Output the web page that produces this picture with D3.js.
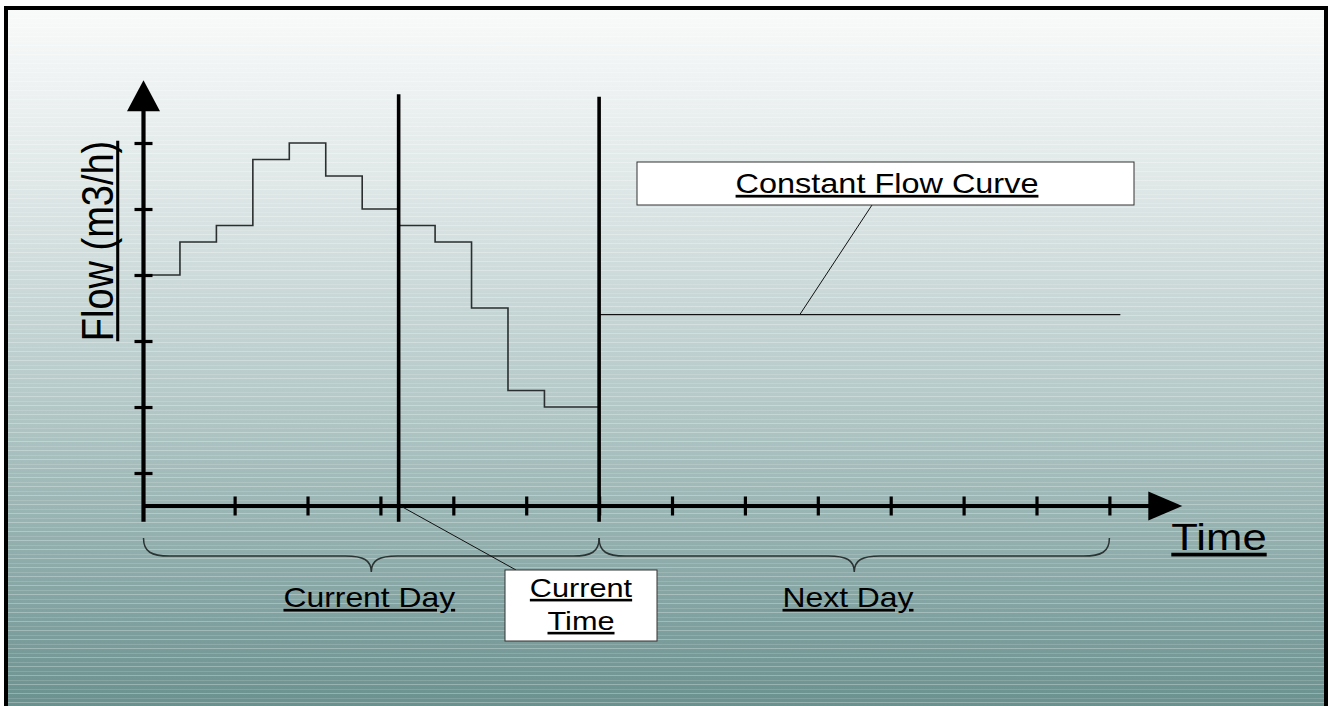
<!DOCTYPE html>
<html>
<head>
<meta charset="utf-8">
<script src="https://cdn.jsdelivr.net/npm/d3@7"></script>
<style>
  html, body { margin: 0; padding: 0; background: #fff; }
  svg { display: block; }
  text { font-family: Arial, "Liberation Sans", sans-serif; fill: #000;
         text-decoration: underline; text-decoration-skip-ink: none; }
  text.plain { text-decoration: none; }
</style>
</head>
<body>
<svg id="chart"></svg>
<script>
// time slots (half-hour steps) and flow levels
const pastSlots = [0, 1, 2, 3, 4, 5, 6, 7, 8, 9, 10, 11, 12.5];
const pastFlow  = [3.5, 4, 4.25, 5.25, 5.5, 5, 4.5, 4.25, 4, 3, 1.75, 1.5, 1.5];
const constSlots = [12.5, 26.8];
const constFlow  = [2.9, 2.9];
const xTickSlots = [2.5, 4.5, 6.5, 8.5, 10.5, 12.5, 14.5, 16.5, 18.5, 20.5, 22.5, 24.5, 26.5];
const yTickFlow  = [0.5, 1.5, 2.5, 3.5, 4.5, 5.5];
const currentTime = 7;
const dayBreak = 12.5;
const labels = { y: "Flow (m3/h)", x: "Time", today: "Current Day", tomorrow: "Next Day",
                 now: ["Current", "Time"], curve: "Constant Flow Curve" };

const W = 1330, H = 706;
const svg = d3.select("#chart").attr("width", W).attr("height", H);

// the picture is stretched horizontally
const SX = 1.18;

const x = d3.scaleLinear().domain([0, 28.5]).range([143.5, 1182.3]);
const y = d3.scaleLinear().domain([0, 6.5]).range([506, 77]);

// background gradient with faint banding
const defs = svg.append("defs");
const grad = defs.append("linearGradient").attr("id", "bg")
  .attr("x1", 0).attr("y1", 0).attr("x2", 0).attr("y2", 1);
grad.append("stop").attr("offset", "0%").attr("stop-color", "#f9fafa");
grad.append("stop").attr("offset", "25%").attr("stop-color", "#dfe7e7");
grad.append("stop").attr("offset", "55%").attr("stop-color", "#b5cac9");
grad.append("stop").attr("offset", "100%").attr("stop-color", "#69908e");

const pat = defs.append("pattern").attr("id", "bands")
  .attr("patternUnits", "userSpaceOnUse").attr("width", 20).attr("height", 9);
pat.append("rect").attr("y", 0).attr("width", 20).attr("height", 1)
  .attr("fill", "#fff").attr("opacity", 0.28);
pat.append("rect").attr("y", 5).attr("width", 20).attr("height", 1)
  .attr("fill", "#fff").attr("opacity", 0.14);

svg.append("rect").attr("x", 6).attr("y", 8).attr("width", W - 10).attr("height", H)
  .attr("fill", "url(#bg)");
svg.append("rect").attr("x", 6).attr("y", 8).attr("width", W - 10).attr("height", H)
  .attr("fill", "url(#bands)");
svg.append("rect").attr("x", 6).attr("y", 8).attr("width", W - 10).attr("height", H + 10)
  .attr("fill", "none").attr("stroke", "#000").attr("stroke-width", 4);

// step curve for the current day
const stepLine = d3.line().curve(d3.curveStepAfter)
  .x((d, i) => x(pastSlots[i])).y(d => y(d));
svg.append("path").datum(pastFlow)
  .attr("fill", "none").attr("stroke", "#2b2f2f").attr("stroke-width", 1.6)
  .attr("d", stepLine);

// constant flow for the next day
const flatLine = d3.line().x((d, i) => x(constSlots[i])).y(d => y(d));
svg.append("path").datum(constFlow)
  .attr("fill", "none").attr("stroke", "#111").attr("stroke-width", 1.3)
  .attr("d", flatLine);

// ticks via d3 axes (both sides of the axis lines)
const xAxis = svg.append("g").attr("transform", `translate(0,${y(0) - 9.5})`)
  .call(d3.axisBottom(x).tickValues(xTickSlots).tickSize(19).tickFormat(""));
const yAxis = svg.append("g").attr("transform", `translate(${x(0) - 9},0)`)
  .call(d3.axisRight(y).tickValues(yTickFlow).tickSize(18).tickFormat(""));
[xAxis, yAxis].forEach(g => {
  g.select(".domain").remove();
  g.selectAll(".tick line").attr("stroke", "#000").attr("stroke-width", 3.2);
});

// axis lines
svg.append("line").attr("x1", x(0)).attr("x2", x(27.6))
  .attr("y1", y(0)).attr("y2", y(0)).attr("stroke", "#000").attr("stroke-width", 4.2);
svg.append("line").attr("x1", x(0)).attr("x2", x(0))
  .attr("y1", y(-0.24)).attr("y2", y(6.1)).attr("stroke", "#000").attr("stroke-width", 4.2);

// arrow heads
const tipX = x(28.5), tipY = y(6.45);
svg.append("path")
  .attr("d", `M${tipX},${y(0)} L${tipX - 34},${y(0) - 14.5} L${tipX - 34},${y(0) + 14.5} Z`)
  .attr("fill", "#000");
svg.append("path")
  .attr("d", `M${x(0)},${tipY} L${x(0) - 16.5},${tipY + 31} L${x(0) + 16.5},${tipY + 31} Z`)
  .attr("fill", "#000");

// current time and day-break markers
svg.append("line").attr("x1", x(currentTime)).attr("x2", x(currentTime))
  .attr("y1", y(6.24)).attr("y2", y(-0.24)).attr("stroke", "#000").attr("stroke-width", 3.6);
svg.append("line").attr("x1", x(dayBreak)).attr("x2", x(dayBreak))
  .attr("y1", y(6.2)).attr("y2", y(-0.24)).attr("stroke", "#000").attr("stroke-width", 3.6);

// curly braces under the axis
function brace(x0, x1, top) {
  const mid = (x0 + x1) / 2, h = top + 18, tip = top + 34, r = 26;
  return `M${x0},${top} C${x0},${h - 4} ${x0 + 8},${h} ${x0 + r},${h}` +
    ` L${mid - r},${h} C${mid - 8},${h} ${mid},${h + 4} ${mid},${tip}` +
    ` C${mid},${h + 4} ${mid + 8},${h} ${mid + r},${h}` +
    ` L${x1 - r},${h} C${x1 - 8},${h} ${x1},${h - 4} ${x1},${top}`;
}
svg.append("path").attr("d", brace(x(0), x(dayBreak), 538))
  .attr("fill", "none").attr("stroke", "#2b3333").attr("stroke-width", 1.5);
svg.append("path").attr("d", brace(x(dayBreak), x(26.5), 538))
  .attr("fill", "none").attr("stroke", "#2b3333").attr("stroke-width", 1.5);

// text helper with horizontal stretch
function label(str, cx, base, size) {
  return svg.append("text")
    .attr("transform", `translate(${cx},${base}) scale(${SX},1)`)
    .attr("text-anchor", "middle").attr("font-size", size).text(str);
}

// rotated y label, underline drawn by hand so it stays continuous
const yLab = svg.append("g").attr("transform", `translate(113,241) scale(${SX},1) rotate(-90)`);
const yText = yLab.append("text").attr("class", "plain")
  .attr("text-anchor", "middle").attr("font-size", 38).text(labels.y);
const yLen = yText.node().getComputedTextLength();
yLab.append("line").attr("x1", -yLen / 2).attr("x2", yLen / 2)
  .attr("y1", 4).attr("y2", 4).attr("stroke", "#000").attr("stroke-width", 2.6);

label(labels.x, 1219, 550, 37);
label(labels.today, (x(0) + x(dayBreak)) / 2 - 2, 607, 27);
label(labels.tomorrow, 848, 607, 27);

// callout: current time
svg.append("line").attr("x1", x(currentTime) + 2).attr("y1", y(0))
  .attr("x2", 516).attr("y2", 570).attr("stroke", "#111").attr("stroke-width", 1);
svg.append("rect").attr("x", 505).attr("y", 570).attr("width", 152).attr("height", 71)
  .attr("fill", "#fff").attr("stroke", "#333").attr("stroke-width", 1);
label(labels.now[0], 581, 597, 26);
label(labels.now[1], 581, 630, 26);

// callout: constant flow curve
svg.append("line").attr("x1", 872).attr("y1", 205)
  .attr("x2", x(18.5) - 18).attr("y2", y(constFlow[0]))
  .attr("stroke", "#111").attr("stroke-width", 1);
svg.append("rect").attr("x", 637).attr("y", 162).attr("width", 497).attr("height", 43)
  .attr("fill", "#fff").attr("stroke", "#333").attr("stroke-width", 1);
label(labels.curve, 887, 193, 27.5);
</script>
</body>
</html>
